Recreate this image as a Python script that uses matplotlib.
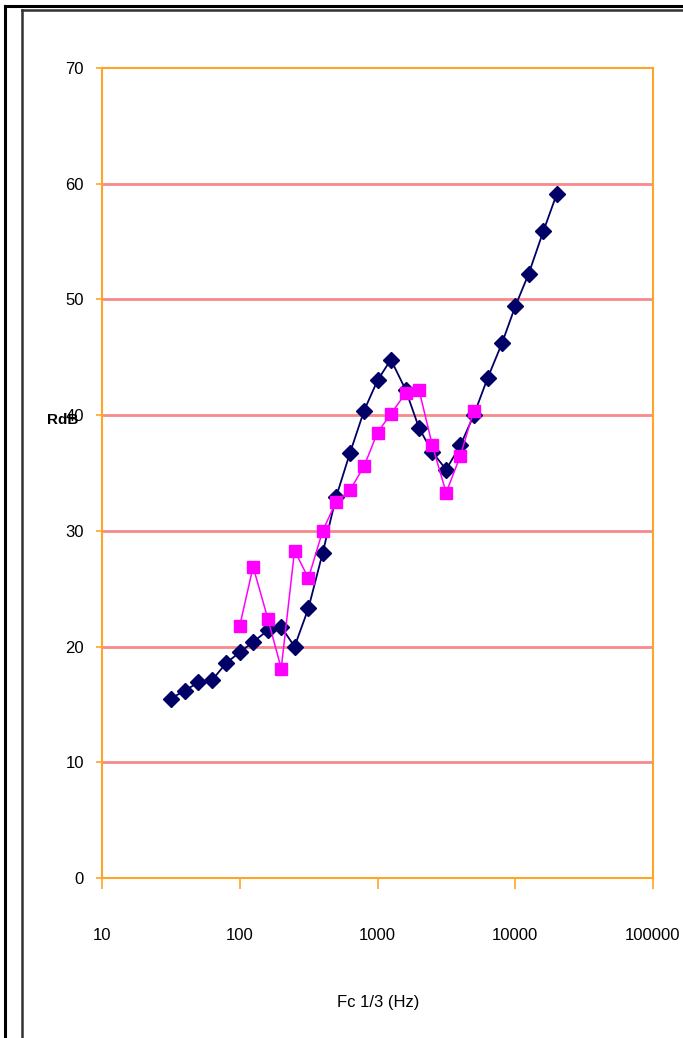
import matplotlib.pyplot as plt
from matplotlib.lines import Line2D

freq_blue = [31.5, 40, 50, 63, 80, 100, 125, 160, 200, 250, 315, 400, 500, 630,
             800, 1000, 1250, 1600, 2000, 2500, 3150, 4000, 5000, 6300, 8000,
             10000, 12500, 16000, 20000]
r_blue = [15.5, 16.2, 16.9, 17.1, 18.6, 19.5, 20.4, 21.4, 21.7, 20.0, 23.3, 28.1,
          32.9, 36.7, 40.4, 43.0, 44.8, 42.2, 38.9, 36.8, 35.3, 37.4, 40.0, 43.2,
          46.2, 49.4, 52.2, 55.9, 59.1]

freq_pink = [100, 125, 160, 200, 250, 315, 400, 500, 630, 800, 1000, 1250, 1600,
             2000, 2500, 3150, 4000, 5000]
r_pink = [21.8, 26.9, 22.4, 18.1, 28.3, 25.9, 30.0, 32.5, 33.5, 35.6, 38.5, 40.1,
          41.9, 42.2, 37.4, 33.3, 36.5, 40.4]

y_ticks = [0, 10, 20, 30, 40, 50, 60, 70]
x_ticks = [10, 100, 1000, 10000, 100000]
x_labels = ['10', '100', '1000', '10000', '100000']

plt.rcParams['font.family'] = ['Liberation Sans', 'DejaVu Sans']

fig = plt.figure(figsize=(6.83, 10.38), dpi=100)
ax = fig.add_axes([102/683, 1 - 878/1038, 551/683, 810/1038])

orange = '#FFA428'
for y in y_ticks[1:-1]:
    ax.axhline(y, color='#F78A8A', lw=2, zorder=1)

ax.plot(freq_blue, r_blue, color='#000066', lw=1.3, marker='D', ms=8.5,
        mfc='#000066', mec='#000066', zorder=3)
ax.plot(freq_pink, r_pink, color='#FF00FF', lw=1.1, marker='s', ms=8.5,
        mfc='#FF00FF', mec='#FF00FF', zorder=4)

ax.set_xscale('log')
ax.set_xlim(10, 100000)
ax.set_ylim(0, 70)
ax.set_xticks(x_ticks)
ax.set_xticklabels(x_labels)
ax.minorticks_off()
ax.set_yticks(y_ticks)

for s in ax.spines.values():
    s.set_color(orange)
    s.set_linewidth(1.5)
ax.tick_params(axis='x', direction='out', length=8, width=1.2, color=orange,
               pad=28, labelsize=12, labelcolor='black')
ax.tick_params(axis='y', direction='out', length=4, width=1.2, color=orange,
               pad=9, labelsize=12, labelcolor='black')

# y label sits over the 40 tick label, as in the source chart
fig.text(63/683, 1 - 420/1038, 'RdB', fontsize=11, fontweight='bold',
         ha='center', va='center')
fig.text(378/683, 1 - 1003/1038, 'Fc 1/3 (Hz)', fontsize=12,
         ha='center', va='center')

# page frames
fig.add_artist(Line2D([5/683, 5/683], [0, 1 - 6/1038], color='black', lw=2.2,
                      transform=fig.transFigure))
fig.add_artist(Line2D([5/683, 1], [1 - 6/1038, 1 - 6/1038], color='black', lw=2.2,
                      transform=fig.transFigure))
fig.add_artist(Line2D([22/683, 22/683], [0, 1 - 10/1038], color='#333333', lw=1.8,
                      transform=fig.transFigure))
fig.add_artist(Line2D([22/683, 1], [1 - 10/1038, 1 - 10/1038], color='#333333', lw=1.8,
                      transform=fig.transFigure))

fig.savefig('out.png', dpi=100)
